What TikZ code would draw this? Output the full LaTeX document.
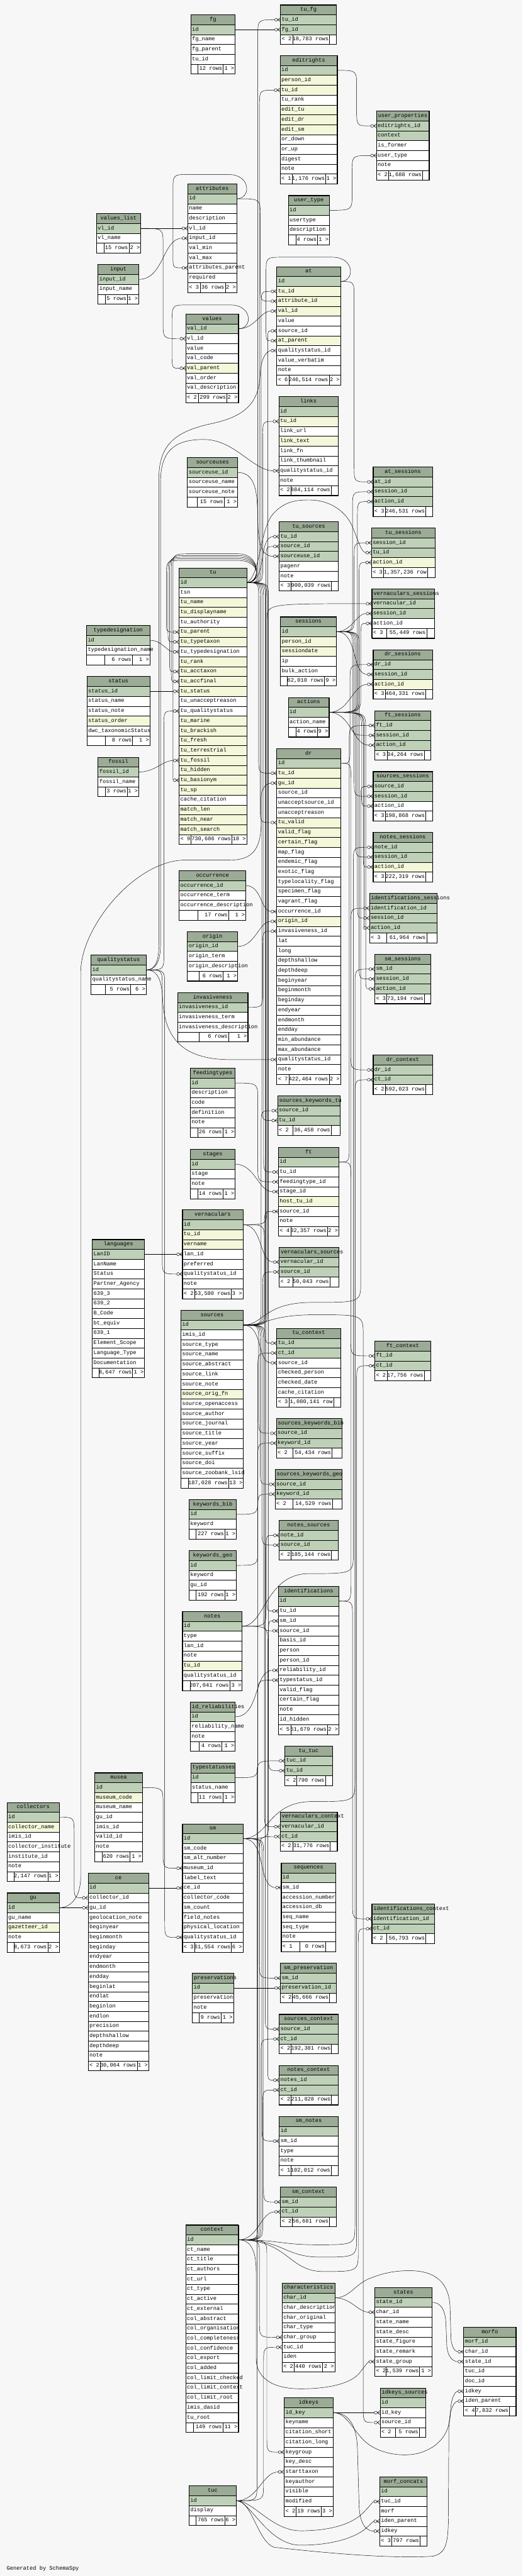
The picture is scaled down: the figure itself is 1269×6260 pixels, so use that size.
\documentclass[tikz,border=0pt]{standalone}
\usepackage{fontspec}
\newfontfamily\dbfont{Liberation Mono}
\usetikzlibrary{arrows.meta,calc}

\definecolor{colh}{HTML}{9BAB96}
\definecolor{colk}{HTML}{BED1B8}
\definecolor{colf}{HTML}{F4F7DA}
\definecolor{coln}{HTML}{FFFFFF}
\definecolor{bgcol}{HTML}{F7F7F7}

\pgfdeclarelayer{back}
\pgfdeclarelayer{edges}
\pgfsetlayers{back,edges,main}

\pgfdeclarearrow{
  name=crowodot,
  setup code={
    \pgfarrowssettipend{0pt}
    \pgfarrowssetlineend{-14pt}
    \pgfarrowssetbackend{-14.5pt}
    \pgfarrowssetvisualbackend{-14.5pt}
    \pgfarrowshullpoint{0pt}{5pt}
    \pgfarrowshullpoint{0pt}{-5pt}
    \pgfarrowshullpoint{-14.5pt}{0pt}
  },
  drawing code={
    \pgfsetdash{}{0pt}
    \pgfpathmoveto{\pgfqpoint{-7pt}{0pt}}\pgfpathlineto{\pgfqpoint{0pt}{5pt}}
    \pgfpathmoveto{\pgfqpoint{-7pt}{0pt}}\pgfpathlineto{\pgfqpoint{0pt}{0pt}}
    \pgfpathmoveto{\pgfqpoint{-7pt}{0pt}}\pgfpathlineto{\pgfqpoint{0pt}{-5pt}}
    \pgfusepathqstroke
    \pgfpathcircle{\pgfqpoint{-10.5pt}{0pt}}{3.5pt}
    \pgfusepathqstroke
  }
}

\tikzset{
  tbcell/.style={draw=black, line width=0.9pt},
  tbframe/.style={draw=black, line width=1.3pt},
  tbtitle/.style={inner sep=0pt, align=center, text height=9pt, text depth=3pt, font=\dbfont\fontsize{13.3}{15}\selectfont},
  tbtext/.style={anchor=west, inner sep=0pt, text height=9pt, text depth=3pt, font=\dbfont\fontsize{13.3}{15}\selectfont},
  rel/.style={draw=black, line width=0.7pt, -{crowodot}},
}

% table: name, left, top, width, type/column list
\newcommand{\dbtable}[5]{%
  \def\tbname{#1}\def\tbx{#2}\def\tby{#3}\def\tbw{#4}%
  \pgfmathsetmacro\tw{#4-8}%
  \path[tbcell, fill=colh] (#2,#3) rectangle ++(#4,24);
  \node[tbtitle, text width=\tw pt] (#1) at (#2+#4/2,#3+12) {\mbox{#1}};
  \foreach \ty/\cn [count=\rw] in {#5} {%
    \pgfmathsetmacro\ry{#3+24*\rw}%
    \edef\fc{col\ty}%
    \path[tbcell, fill=\fc] (#2,\ry) rectangle ++(#4,24);
    \node[tbtext] (#1-\cn) at (#2+3,\ry+12) {\cn};
    \coordinate (#1-\cn-w) at (#2,\ry+12);
    \coordinate (#1-\cn-e) at (#2+#4,\ry+12);
    \xdef\nrw{\rw}%
  }%
  \pgfmathsetmacro\fy{#3+24*(\nrw+1)}%
}
% footer: divider 1, divider 2, left, middle, right
\newcommand{\dbfoot}[5]{%
  \path[tbcell, fill=white] (\tbx,\fy) rectangle ++(\tbw,24);
  \draw[tbcell] (#1,\fy) -- ++(0,24) (#2,\fy) -- ++(0,24);
  \node[tbtext] (\tbname-fl) at (\tbx+3,\fy+12) {#3};
  \node[tbtext, anchor=east] (\tbname-fm) at (#2-2,\fy+12) {#4};
  \node[tbtext, anchor=east] (\tbname-fr) at (\tbx+\tbw-2,\fy+12) {#5};
  \draw[tbframe] (\tbx,\tby) rectangle (\tbx+\tbw,\fy+24);
}

\newcommand{\reldirect}[2]{\draw[rel] (#1-e) to[out=0,in=180] (#2-w);}
\newcommand{\relvia}[3]{%
  \draw[rel] let \p1=(#1-e), \p2=(#2-w), \n1={ifthenelse(\y2>\y1,1,-1)} in
    (\p1) .. controls ({#3pt},\y1) and ({#3pt},\y1) .. ({#3pt},{\y1+\n1*40pt})
    -- ({#3pt},{\y2-\n1*40pt}) .. controls ({#3pt},\y2) and ({#3pt},\y2) .. (\p2);}
\newcommand{\relcross}[5]{%
  \draw[rel] let \p1=(#1-e), \p2=(#2-w), \n1={ifthenelse(\y2>-#4pt,1,-1)} in
    (\p1) .. controls ({#3pt},\y1) and ({#3pt},{-#4pt}) .. ({(#3+#5)/2*1pt},{-#4pt})
    .. controls ({#5pt},{-#4pt}) and ({#5pt},{-#4pt}) .. ({#5pt},{-#4pt+\n1*50pt})
    -- ({#5pt},{\y2-\n1*40pt}) .. controls ({#5pt},\y2) and ({#5pt},\y2) .. (\p2);}
\newcommand{\relself}[4]{%
  \draw[rel] let \p1=(#1-e), \p2=(#2-w) in
    (\p1) .. controls ({\x1+35pt},\y1) and ({\x1+35pt},{-#3pt}) .. ({\x1-20pt},{-#3pt})
    -- ({#4pt+40pt},{-#3pt}) .. controls ({#4pt},{-#3pt}) and ({#4pt},{-#3pt}) .. ({#4pt},{-#3pt-40pt})
    -- ({#4pt},{\y2+30pt}) .. controls ({#4pt},\y2) and ({#4pt},\y2) .. (\p2);}

\setlength\parindent{0pt}

\begin{document}
\catcode`\_=12
\begin{tikzpicture}[x=1pt,y=-1pt]
\useasboundingbox (0,0) rectangle (1269,6260);
\begin{pgfonlayer}{back}
\fill[bgcol] (0,0) rectangle (1269,6260);
\end{pgfonlayer}

\dbtable{fg}{463}{36}{108}{k/id,n/fg_name,n/fg_parent,n/tu_id}
\dbfoot{480}{542}{}{12 rows}{1 >}
\dbtable{tu_fg}{681}{12}{136}{k/tu_id,k/fg_id}
\dbfoot{711}{800}{< 2}{18,783 rows}{}
\dbtable{editrights}{680}{135}{139}{k/id,f/person_id,f/tu_id,n/tu_rank,f/edit_tu,f/edit_dr,f/edit_sm,n/or_down,n/or_up,n/digest,n/note}
\dbfoot{710}{791}{< 1}{1,176 rows}{1 >}
\dbtable{user_properties}{914}{270}{128}{k/editrights_id,k/context,n/is_former,n/user_type,n/note}
\dbfoot{944}{1026}{< 2}{1,688 rows}{}
\dbtable{attributes}{456}{447}{119}{k/id,n/name,n/description,n/vl_id,n/input_id,n/val_min,n/val_max,n/attributes_parent,n/required}
\dbfoot{486}{547}{< 3}{36 rows}{2 >}
\dbtable{user_type}{700}{475}{100}{k/id,n/usertype,n/description}
\dbfoot{719}{771}{}{4 rows}{1 >}
\dbtable{values_list}{234}{519}{108}{k/vl_id,n/vl_name}
\dbfoot{252}{313}{}{15 rows}{2 >}
\dbtable{input}{238}{643}{99}{k/input_id,n/input_name}
\dbfoot{256}{309}{}{5 rows}{1 >}
\dbtable{at}{672}{648}{155}{k/id,f/tu_id,f/attribute_id,f/val_id,n/value,n/source_id,f/at_parent,n/qualitystatus_id,n/value_verbatim,n/note}
\dbfoot{702}{799}{< 6}{246,514 rows}{2 >}
\dbtable{values}{451}{763}{128}{k/val_id,n/vl_id,n/value,n/val_code,f/val_parent,n/val_order,n/val_description}
\dbfoot{482}{551}{< 2}{299 rows}{2 >}
\dbtable{links}{677}{964}{144}{k/id,f/tu_id,n/link_url,f/link_text,n/link_fn,n/link_thumbnail,n/qualitystatus_id,n/note}
\dbfoot{707}{804}{< 2}{884,114 rows}{}
\dbtable{sourceuses}{455}{1112}{122}{k/sourceuse_id,n/sourceuse_name,n/sourceuse_note}
\dbfoot{479}{544}{}{15 rows}{1 >}
\dbtable{at_sessions}{906}{1135}{144}{k/at_id,k/session_id,k/action_id}
\dbfoot{936}{1034}{< 3}{246,531 rows}{}
\dbtable{tu_sources}{678}{1268}{143}{k/tu_id,k/source_id,k/sourceuse_id,n/pagenr,n/note}
\dbfoot{707}{805}{< 3}{900,039 rows}{}
\dbtable{tu_sessions}{902}{1283}{155}{k/session_id,k/tu_id,f/action_id}
\dbfoot{931}{1038}{< 3}{1,357,236 row}{}
\dbtable{tu}{435}{1380}{164}{k/id,n/tsn,f/tu_name,f/tu_displayname,n/tu_authority,f/tu_parent,f/tu_typetaxon,n/tu_typedesignation,f/tu_rank,f/tu_acctaxon,f/tu_accfinal,f/tu_status,n/tu_unacceptreason,n/tu_qualitystatus,f/tu_marine,f/tu_brackish,f/tu_fresh,f/tu_terrestrial,f/tu_fossil,f/tu_hidden,f/tu_basionym,f/tu_sp,n/cache_citation,f/match_len,f/match_near,f/match_search}
\dbfoot{463}{563}{< 9}{730,686 rows}{18 >}
\dbtable{vernaculars_sessions}{903}{1431}{152}{k/vernacular_id,k/session_id,n/action_id}
\dbfoot{939}{1036}{< 3}{55,449 rows}{}
\dbtable{sessions}{681}{1499}{136}{k/id,f/person_id,f/sessiondate,n/ip,n/bulk_action}
\dbfoot{698}{788}{}{62,010 rows}{9 >}
\dbtable{typedesignation}{210}{1520}{154}{k/id,n/typedesignation_name}
\dbfoot{254}{321}{}{6 rows}{1 >}
\dbtable{dr_sessions}{906}{1579}{144}{k/dr_id,k/session_id,f/action_id}
\dbfoot{936}{1034}{< 3}{464,331 rows}{}
\dbtable{status}{211}{1644}{153}{k/status_id,n/status_name,n/status_note,f/status_order,n/dwc_taxonomicStatus}
\dbfoot{255}{322}{}{8 rows}{1 >}
\dbtable{actions}{700}{1695}{99}{k/id,n/action_name}
\dbfoot{718}{771}{}{4 rows}{9 >}
\dbtable{ft_sessions}{910}{1727}{136}{k/ft_id,k/session_id,k/action_id}
\dbfoot{940}{1030}{< 3}{34,264 rows}{}
\dbtable{dr}{672}{1819}{155}{k/id,f/tu_id,f/gu_id,n/source_id,n/unacceptsource_id,n/unacceptreason,f/tu_valid,f/valid_flag,f/certain_flag,n/map_flag,n/endemic_flag,n/exotic_flag,n/typelocality_flag,n/specimen_flag,n/vagrant_flag,n/occurrence_id,f/origin_id,n/invasiveness_id,n/lat,n/long,n/depthshallow,n/depthdeep,n/beginyear,n/beginmonth,n/beginday,n/endyear,n/endmonth,n/endday,n/min_abundance,n/max_abundance,n/qualitystatus_id,n/note}
\dbfoot{702}{799}{< 7}{422,464 rows}{2 >}
\dbtable{fossil}{238}{1840}{99}{k/fossil_id,n/fossil_name}
\dbfoot{256}{309}{}{3 rows}{1 >}
\dbtable{sources_sessions}{906}{1875}{144}{k/source_id,k/session_id,n/action_id}
\dbfoot{936}{1034}{< 3}{198,868 rows}{}
\dbtable{notes_sessions}{906}{2023}{144}{k/note_id,k/session_id,f/action_id}
\dbfoot{936}{1034}{< 3}{222,319 rows}{}
\dbtable{occurrence}{435}{2116}{162}{k/occurrence_id,n/occurrence_term,n/occurrence_description}
\dbfoot{480}{555}{}{17 rows}{1 >}
\dbtable{identifications_sessions}{897}{2171}{164}{k/identification_id,k/session_id,k/action_id}
\dbfoot{939}{1036}{< 3}{61,964 rows}{}
\dbtable{origin}{455}{2264}{122}{k/origin_id,n/origin_term,n/origin_description}
\dbfoot{483}{542}{}{6 rows}{1 >}
\dbtable{sm_sessions}{910}{2319}{136}{k/sm_id,k/session_id,k/action_id}
\dbfoot{939}{1030}{< 3}{73,194 rows}{}
\dbtable{qualitystatus}{221}{2321}{134}{k/id,n/qualitystatus_name}
\dbfoot{256}{317}{}{5 rows}{6 >}
\dbtable{invasiveness}{431}{2412}{171}{k/invasiveness_id,n/invasiveness_term,n/invasiveness_description}
\dbfoot{484}{555}{}{6 rows}{1 >}
\dbtable{dr_context}{906}{2564}{144}{k/dr_id,k/ct_id}
\dbfoot{936}{1034}{< 2}{592,023 rows}{}
\dbtable{feedingtypes}{462}{2596}{109}{k/id,n/description,n/code,n/definition,n/note}
\dbfoot{480}{541}{}{26 rows}{1 >}
\dbtable{sources_keywords_tu}{674}{2663}{152}{k/source_id,k/tu_id}
\dbfoot{711}{804}{< 2}{36,458 rows}{}
\dbtable{ft}{676}{2788}{147}{k/id,n/tu_id,n/feedingtype_id,n/stage_id,f/host_tu_id,n/source_id,n/note}
\dbfoot{706}{795}{< 4}{32,357 rows}{2 >}
\dbtable{stages}{462}{2793}{109}{k/id,n/stage,n/note}
\dbfoot{480}{541}{}{14 rows}{1 >}
\dbtable{vernaculars}{443}{2940}{147}{k/id,f/tu_id,f/vername,n/lan_id,n/preferred,n/qualitystatus_id,n/note}
\dbfoot{472}{562}{< 2}{53,580 rows}{3 >}
\dbtable{languages}{224}{3012}{127}{k/LanID,n/LanName,n/Status,n/Partner_Agency,n/639_3,n/639_2,n/B_Code,n/bt_equiv,n/639_1,n/Element_Scope,n/Language_Type,n/Documentation}
\dbfoot{241}{322}{}{8,647 rows}{1 >}
\dbtable{vernaculars_sources}{678}{3031}{145}{k/vernacular_id,k/source_id}
\dbfoot{711}{801}{< 2}{50,043 rows}{}
\dbtable{sources}{439}{3184}{152}{k/id,n/imis_id,n/source_type,n/source_name,n/source_abstract,n/source_link,n/source_note,f/source_orig_fn,n/source_openaccess,n/source_author,n/source_journal,n/source_title,n/source_year,n/source_suffix,n/source_doi,n/source_zoobank_lsid}
\dbfoot{458}{555}{}{187,028 rows}{13 >}
\dbtable{tu_context}{672}{3228}{155}{k/tu_id,k/ct_id,n/source_id,n/checked_person,n/checked_date,n/cache_citation}
\dbfoot{702}{810}{< 3}{1,080,141 row}{}
\dbtable{ft_context}{910}{3259}{136}{k/ft_id,k/ct_id}
\dbfoot{940}{1030}{< 2}{17,756 rows}{}
\dbtable{sources_keywords_bib}{671}{3447}{159}{k/source_id,k/keyword_id}
\dbfoot{711}{806}{< 2}{54,434 rows}{}
\dbtable{sources_keywords_geo}{668}{3571}{163}{k/source_id,k/keyword_id}
\dbfoot{711}{807}{< 2}{14,529 rows}{}
\dbtable{keywords_bib}{459}{3644}{115}{k/id,n/keyword}
\dbfoot{476}{546}{}{227 rows}{1 >}
\dbtable{notes_sources}{678}{3695}{143}{k/note_id,k/source_id}
\dbfoot{707}{805}{< 2}{185,144 rows}{}
\dbtable{keywords_geo}{459}{3768}{115}{k/id,n/keyword,n/gu_id}
\dbfoot{476}{546}{}{192 rows}{1 >}
\dbtable{identifications}{676}{3855}{147}{k/id,n/tu_id,n/sm_id,n/source_id,n/basis_id,n/person,n/person_id,n/reliability_id,n/typestatus_id,n/valid_flag,n/certain_flag,n/note,n/id_hidden}
\dbfoot{706}{795}{< 5}{61,679 rows}{2 >}
\dbtable{notes}{443}{3916}{145}{k/id,n/type,n/lan_id,n/note,f/tu_id,n/qualitystatus_id}
\dbfoot{462}{558}{}{207,041 rows}{3 >}
\dbtable{id_reliabilities}{462}{4136}{109}{k/id,n/reliability_name,n/note}
\dbfoot{483}{539}{}{4 rows}{1 >}
\dbtable{tu_tuc}{692}{4243}{115}{k/tuc_id,k/tu_id}
\dbfoot{721}{790}{< 2}{790 rows}{}
\dbtable{typestatusses}{463}{4284}{108}{k/id,n/status_name}
\dbfoot{480}{541}{}{11 rows}{1 >}
\dbtable{musea}{230}{4308}{116}{k/id,f/museum_code,n/museum_name,n/gu_id,n/imis_id,n/valid_id,n/note}
\dbfoot{248}{316}{}{620 rows}{1 >}
\dbtable{collectors}{17}{4380}{127}{k/id,f/collector_name,n/imis_id,n/collector_institute,n/institute_id,n/note}
\dbfoot{34}{116}{}{2,147 rows}{1 >}
\dbtable{vernaculars_context}{680}{4403}{139}{k/vernacular_id,k/ct_id}
\dbfoot{711}{802}{< 2}{31,776 rows}{}
\dbtable{sm}{443}{4432}{147}{k/id,n/sm_code,n/sm_alt_number,n/museum_id,n/label_text,n/ce_id,n/collector_code,n/sm_count,n/field_notes,n/physical_location,n/qualitystatus_id}
\dbfoot{472}{562}{< 3}{61,554 rows}{6 >}
\dbtable{sequences}{683}{4527}{132}{k/id,n/sm_id,n/accession_number,n/accession_db,n/seq_name,n/seq_type,n/note}
\dbfoot{728}{791}{< 1}{0 rows}{}
\dbtable{ce}{214}{4552}{147}{k/id,n/collector_id,n/gu_id,n/geolocation_note,n/beginyear,n/beginmonth,n/beginday,n/endyear,n/endmonth,n/endday,n/beginlat,n/endlat,n/beginlon,n/endlon,n/precision,n/depthshallow,n/depthdeep,n/note}
\dbfoot{244}{333}{< 2}{30,064 rows}{1 >}
\dbtable{gu}{17}{4600}{127}{k/id,n/gu_name,f/gazetteer_id,n/note}
\dbfoot{34}{116}{}{8,673 rows}{2 >}
\dbtable{identifications_context}{903}{4627}{152}{k/identification_id,k/ct_id}
\dbfoot{939}{1034}{< 2}{56,793 rows}{}
\dbtable{sm_preservation}{681}{4771}{136}{k/sm_id,k/preservation_id}
\dbfoot{710}{800}{< 2}{45,666 rows}{}
\dbtable{preservations}{467}{4795}{100}{k/id,n/preservation,n/note}
\dbfoot{483}{537}{}{9 rows}{1 >}
\dbtable{sources_context}{678}{4895}{143}{k/source_id,k/ct_id}
\dbfoot{707}{805}{< 2}{192,381 rows}{}
\dbtable{notes_context}{678}{5019}{143}{k/notes_id,k/ct_id}
\dbfoot{707}{805}{< 2}{211,828 rows}{}
\dbtable{sm_notes}{678}{5143}{143}{k/id,n/sm_id,n/type,n/note}
\dbfoot{707}{804}{< 1}{102,012 rows}{}
\dbtable{sm_context}{681}{5315}{136}{k/sm_id,k/ct_id}
\dbfoot{710}{800}{< 2}{56,681 rows}{}
\dbtable{context}{451}{5407}{128}{k/id,n/ct_name,n/ct_title,n/ct_authors,n/ct_url,n/ct_type,n/ct_active,n/ct_external,n/col_abstract,n/col_organisation,n/col_completeness,n/col_confidence,n/col_export,n/col_added,n/col_limit_checked,n/col_limit_context,n/col_limit_root,n/imis_dasid,n/tu_root}
\dbfoot{469}{541}{}{149 rows}{11 >}
\dbtable{characteristics}{685}{5548}{128}{k/char_id,n/char_description,n/char_original,n/char_type,n/char_group,n/tuc_id,n/iden}
\dbfoot{714}{783}{< 2}{440 rows}{2 >}
\dbtable{states}{910}{5559}{139}{k/state_id,n/char_id,n/state_name,n/state_desc,n/state_figure,n/state_remark,n/state_group}
\dbfoot{938}{1019}{< 2}{1,539 rows}{1 >}
\dbtable{morfo}{1126}{5655}{127}{k/morf_id,n/char_id,n/state_id,n/tuc_id,n/doc_id,n/idkey,n/iden_parent}
\dbfoot{1155}{1237}{< 4}{7,832 rows}{}
\dbtable{idkeys_sources}{923}{5803}{111}{k/id,n/id_key,n/source_id}
\dbfoot{960}{1018}{< 2}{5 rows}{}
\dbtable{idkeys}{690}{5827}{119}{k/id_key,n/keyname,n/citation_short,n/citation_long,n/keygroup,n/key_desc,n/starttaxon,n/keyauthor,n/visible,n/modified}
\dbfoot{718}{780}{< 2}{19 rows}{3 >}
\dbtable{morf_concats}{922}{6019}{115}{k/id,n/tuc_id,n/morf,n/iden_parent,n/idkey}
\dbfoot{951}{1020}{< 3}{797 rows}{}
\dbtable{tuc}{459}{6041}{115}{k/id,n/display}
\dbfoot{476}{546}{}{765 rows}{6 >}

\node[tbtext] (generated) at (16,6242) {Generated by SchemaSpy};

\begin{pgfonlayer}{edges}
% top block
\reldirect{fg-id}{tu_fg-fg_id}
\relvia{editrights-id}{user_properties-editrights_id}{866}
\relvia{user_type-id}{user_properties-user_type}{855}
\reldirect{values_list-vl_id}{attributes-vl_id}
\reldirect{input-input_id}{attributes-input_id}
\relself{attributes-id}{attributes-attributes_parent}{424}{420}
\relvia{values_list-vl_id}{values-vl_id}{396}
\relself{values-val_id}{values-val_parent}{741}{418}
\relvia{attributes-id}{at-attribute_id}{632}
\reldirect{values-val_id}{at-val_id}
\relself{at-id}{at-at_parent}{625}{646}
\relvia{at-id}{at_sessions-at_id}{860}

% tu
\relvia{tu-id}{tu_fg-tu_id}{626}
\relvia{tu-id}{editrights-tu_id}{630}
\relvia{tu-id}{at-tu_id}{634}
\relvia{tu-id}{links-tu_id}{638}
\reldirect{tu-id}{tu_sources-tu_id}
\draw[rel] (tu-id-e) .. controls (632,1400) and (630,1290) .. (662,1250) .. controls (690,1218) and (720,1215) .. (750,1215) .. controls (800,1215) and (835,1240) .. (852,1272) .. controls (866,1300) and (876,1343) .. (tu_sessions-tu_id-w);
\relvia{tu-id}{dr-tu_id}{628}
\relvia{tu-id}{dr-tu_valid}{632}
\relvia{tu-id}{sources_keywords_tu-tu_id}{636}
\relvia{tu-id}{ft-tu_id}{640}
\relvia{tu-id}{tu_context-tu_id}{644}
\relvia{tu-id}{identifications-tu_id}{648}
\relvia{tu-id}{tu_tuc-tu_id}{652}
\relself{tu-id}{tu-tu_parent}{1362}{404}
\relself{tu-id}{tu-tu_typetaxon}{1358}{408}
\relself{tu-id}{tu-tu_acctaxon}{1354}{412}
\relself{tu-id}{tu-tu_accfinal}{1350}{416}
\relself{tu-id}{tu-tu_basionym}{1346}{420}
\reldirect{typedesignation-id}{tu-tu_typedesignation}
\reldirect{status-status_id}{tu-tu_status}
\reldirect{fossil-fossil_id}{tu-tu_fossil}
\reldirect{sourceuses-sourceuse_id}{tu_sources-sourceuse_id}

% qualitystatus
\relvia{qualitystatus-id}{tu-tu_qualitystatus}{398}
\draw[rel] (qualitystatus-id-e) .. controls (382,2357) and (390,2330) .. (390,2290) -- (390,1170) .. controls (390,1090) and (430,1068) .. (495,1068) .. controls (570,1068) and (615,1144) .. (links-qualitystatus_id-w);
\draw[rel] (qualitystatus-id-e) .. controls (380,2357) and (386,2330) .. (386,2290) -- (386,1160) .. controls (386,1070) and (440,1045) .. (520,1028) .. controls (610,1008) and (630,965) .. (632,905) .. controls (634,870) and (648,852) .. (at-qualitystatus_id-w);
\draw[rel] (qualitystatus-id-e) .. controls (385,2357) and (393,2385) .. (395,2430) .. controls (400,2520) and (440,2575) .. (560,2575) -- (dr-qualitystatus_id-w);
\relvia{qualitystatus-id}{vernaculars-qualitystatus_id}{394}
\relvia{qualitystatus-id}{sm-qualitystatus_id}{400}

% sessions and actions
\relvia{sessions-id}{at_sessions-session_id}{856}
\relvia{sessions-id}{tu_sessions-session_id}{860}
\reldirect{sessions-id}{vernaculars_sessions-session_id}
\reldirect{sessions-id}{dr_sessions-session_id}
\relvia{sessions-id}{ft_sessions-session_id}{856}
\relvia{sessions-id}{sources_sessions-session_id}{860}
\relvia{sessions-id}{notes_sessions-session_id}{864}
\relvia{sessions-id}{identifications_sessions-session_id}{868}
\relvia{sessions-id}{sm_sessions-session_id}{872}
\relvia{actions-id}{at_sessions-action_id}{868}
\relvia{actions-id}{tu_sessions-action_id}{872}
\relvia{actions-id}{vernaculars_sessions-action_id}{876}
\reldirect{actions-id}{dr_sessions-action_id}
\reldirect{actions-id}{ft_sessions-action_id}
\relvia{actions-id}{sources_sessions-action_id}{878}
\relvia{actions-id}{notes_sessions-action_id}{882}
\relvia{actions-id}{identifications_sessions-action_id}{884}
\relvia{actions-id}{sm_sessions-action_id}{888}

% dr, ft
\relvia{dr-id}{dr_sessions-dr_id}{850}
\relvia{dr-id}{dr_context-dr_id}{852}
\draw[rel] (gu-id-e) .. controls (172,4636) and (196,4610) .. (196,4560) -- (196,2360) .. controls (198,2250) and (330,2090) .. (450,2090) -- (560,2090) .. controls (615,2090) and (634,2060) .. (634,2000) -- (634,1940) .. controls (634,1912) and (650,1903) .. (dr-gu_id-w);
\reldirect{occurrence-occurrence_id}{dr-occurrence_id}
\reldirect{origin-origin_id}{dr-origin_id}
\relvia{invasiveness-invasiveness_id}{dr-invasiveness_id}{638}
\relvia{ft-id}{ft_sessions-ft_id}{848}
\relvia{ft-id}{ft_context-ft_id}{852}
\relvia{feedingtypes-id}{ft-feedingtype_id}{626}
\reldirect{stages-id}{ft-stage_id}

% vernaculars
\reldirect{languages-LanID}{vernaculars-lan_id}
\relvia{vernaculars-id}{vernaculars_sessions-vernacular_id}{648}
\reldirect{vernaculars-id}{vernaculars_sources-vernacular_id}
\relvia{vernaculars-id}{vernaculars_context-vernacular_id}{642}

% sources
\relvia{sources-id}{at-source_id}{650}
\relvia{sources-id}{tu_sources-source_id}{646}
\relvia{sources-id}{ft-source_id}{642}
\relvia{sources-id}{vernaculars_sources-source_id}{638}
\relvia{sources-id}{sources_keywords_tu-source_id}{634}
\reldirect{sources-id}{tu_context-source_id}
\relcross{sources-id}{sources_sessions-source_id}{640}{3165}{876}
\relcross{sources-id}{idkeys_sources-source_id}{652}{3195}{882}
\relvia{sources-id}{sources_keywords_bib-source_id}{628}
\relvia{sources-id}{sources_keywords_geo-source_id}{632}
\relvia{sources-id}{notes_sources-source_id}{636}
\relvia{sources-id}{identifications-source_id}{640}
\relvia{sources-id}{sources_context-source_id}{644}
\relvia{keywords_bib-id}{sources_keywords_bib-keyword_id}{626}
\relvia{keywords_geo-id}{sources_keywords_geo-keyword_id}{626}

% notes, identifications
\relvia{notes-id}{notes_sources-note_id}{646}
\relcross{notes-id}{notes_sessions-note_id}{644}{3824}{858}
\relvia{notes-id}{notes_context-notes_id}{650}
\relvia{identifications-id}{identifications_sessions-identification_id}{852}
\relvia{identifications-id}{identifications_context-identification_id}{856}
\reldirect{id_reliabilities-id}{identifications-reliability_id}
\relvia{typestatusses-id}{identifications-typestatus_id}{626}

% sm
\relvia{sm-id}{identifications-sm_id}{652}
\relcross{sm-id}{sm_sessions-sm_id}{652}{4378}{862}
\relvia{musea-id}{sm-museum_id}{396}
\reldirect{ce-id}{sm-ce_id}
\reldirect{sm-id}{sequences-sm_id}
\relvia{sm-id}{sm_preservation-sm_id}{630}
\reldirect{preservations-id}{sm_preservation-preservation_id}
\relvia{sm-id}{sm_notes-sm_id}{636}
\relvia{sm-id}{sm_context-sm_id}{640}
\relvia{collectors-id}{ce-collector_id}{180}
\reldirect{gu-id}{ce-gu_id}

% context
\relvia{context-id}{tu_context-ct_id}{626}
\relvia{context-id}{vernaculars_context-ct_id}{630}
\relvia{context-id}{sources_context-ct_id}{634}
\relvia{context-id}{notes_context-ct_id}{638}
\reldirect{context-id}{sm_context-ct_id}
\relcross{context-id}{dr_context-ct_id}{680}{5455}{862}
\relcross{context-id}{ft_context-ct_id}{690}{5485}{866}
\relcross{context-id}{identifications_context-ct_id}{700}{5520}{870}
\relvia{context-id}{characteristics-char_group}{630}
\relvia{context-id}{idkeys-keygroup}{648}
\draw[rel] (context-id-e) .. controls (612,5443) and (622,5475) .. (622,5520) -- (622,5730) .. controls (622,5790) and (680,5805) .. (730,5805) .. controls (800,5805) and (850,5792) .. (872,5768) .. controls (886,5750) and (894,5739) .. (states-state_group-w);

% characteristics, keys
\reldirect{characteristics-char_id}{states-char_id}
\draw[rel] (characteristics-char_id-e) .. controls (850,5584) and (862,5550) .. (900,5536) .. controls (940,5520) and (970,5518) .. (995,5518) .. controls (1055,5518) and (1092,5545) .. (1093,5610) -- (1095,5680) .. controls (1096,5705) and (1106,5715) .. (morfo-char_id-w);
\draw[rel] (states-state_id-e) .. controls (1072,5595) and (1082,5615) .. (1083,5650) -- (1085,5700) .. controls (1087,5728) and (1100,5739) .. (morfo-state_id-w);
\reldirect{idkeys-id_key}{idkeys_sources-id_key}
\draw[rel] (idkeys-id_key-e) .. controls (845,5863) and (860,5915) .. (895,5940) .. controls (930,5965) and (980,5970) .. (1015,5962) .. controls (1075,5945) and (1093,5905) .. (1094,5860) .. controls (1095,5830) and (1104,5811) .. (morfo-idkey-w);
\draw[rel] (idkeys-id_key-e) .. controls (848,5863) and (866,5895) .. (868,5950) -- (872,6090) .. controls (874,6135) and (890,6151) .. (morf_concats-idkey-w);
\relvia{tuc-id}{tu_tuc-tuc_id}{624}
\relvia{tuc-id}{characteristics-tuc_id}{640}
\reldirect{tuc-id}{idkeys-starttaxon}
\draw[rel] (tuc-id-e) .. controls (615,6077) and (660,6150) .. (730,6150) .. controls (800,6150) and (850,6135) .. (878,6110) .. controls (896,6093) and (905,6079) .. (morf_concats-tuc_id-w);
\draw[rel] (tuc-id-e) .. controls (608,6077) and (650,6185) .. (730,6185) .. controls (800,6185) and (850,6170) .. (878,6152) .. controls (896,6140) and (905,6127) .. (morf_concats-iden_parent-w);
\draw[rel] (tuc-id-e) .. controls (612,6077) and (625,6175) .. (665,6190) .. controls (800,6205) and (950,6218) .. (1050,6212) .. controls (1085,6205) and (1089,6180) .. (1089,6100) -- (1090,5900) .. controls (1091,5852) and (1104,5835) .. (morfo-iden_parent-w);
\end{pgfonlayer}
\end{tikzpicture}
\end{document}
